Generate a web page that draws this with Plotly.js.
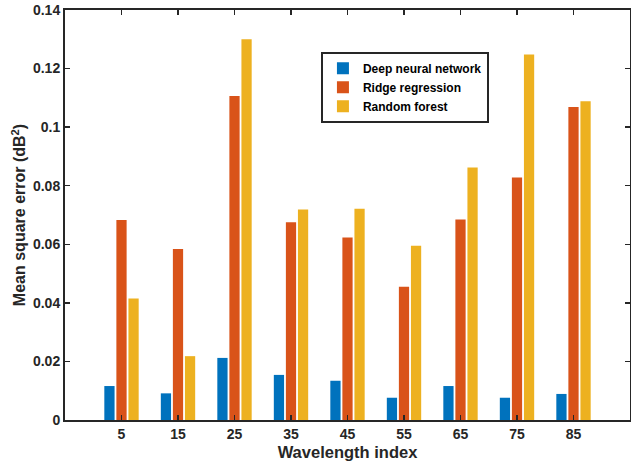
<!DOCTYPE html>
<html>
<head>
<meta charset="utf-8">
<script src="https://cdn.plot.ly/plotly-3.0.1.min.js"></script>
<style>html,body{margin:0;padding:0;background:#fff;}#chart{width:631px;height:472px;}</style>
</head>
<body>
<div id="chart"></div>
<script>
const categories = [5, 15, 25, 35, 45, 55, 65, 75, 85];
const dnn = [0.0116, 0.0091, 0.0212, 0.0154, 0.0134, 0.0076, 0.0116, 0.0076, 0.0089];
const ridge = [0.0683, 0.0584, 0.1106, 0.0675, 0.0623, 0.0455, 0.0685, 0.0828, 0.1069];
const forest = [0.0415, 0.0218, 0.1300, 0.0719, 0.0721, 0.0595, 0.0862, 0.1248, 0.1088];
const seriesNames = ['Deep neural network', 'Ridge regression', 'Random forest'];
const yTickVals = [0, 0.02, 0.04, 0.06, 0.08, 0.1, 0.12, 0.14];
const yTickText = ['0', '0.02', '0.04', '0.06', '0.08', '0.1', '0.12', '0.14'];

const colors = ['#0072BD', '#D95319', '#EDB120'];
const seriesData = [dnn, ridge, forest];
const traces = seriesData.map((vals, i) => ({
  type: 'bar', x: categories, y: vals, name: seriesNames[i],
  marker: {color: colors[i], line: {width: 0}}
}));

const axisCommon = {
  showline: true, linecolor: '#262626', linewidth: 2, mirror: 'ticks',
  ticks: 'inside', ticklen: 5, tickwidth: 1.5, tickcolor: '#262626',
  showgrid: false, zeroline: false,
  tickfont: {family: '"Liberation Sans", Arial, sans-serif', size: 14, color: '#262626', weight: 'bold'}
};

const layout = {
  width: 631, height: 472,
  margin: {l: 65, r: 1, t: 10, b: 52, pad: 0},
  paper_bgcolor: '#fff', plot_bgcolor: '#fff',
  font: {family: '"Liberation Sans", Arial, sans-serif', color: '#262626', weight: 'bold'},
  barmode: 'group', bargap: 0.36, bargroupgap: 0.15,
  showlegend: true,
  legend: {
    x: 0.453, y: 0.898, xanchor: 'left', yanchor: 'top',
    bgcolor: '#fff', bordercolor: '#262626', borderwidth: 2,
    font: {size: 12, color: '#000', weight: 'bold'},
    tracegroupgap: 0, itemwidth: 30
  },
  xaxis: Object.assign({}, axisCommon, {
    range: [-5, 95], tickvals: categories, ticktext: categories.map(String),
    title: {text: 'Wavelength index', font: {size: 16.5, color: '#262626', weight: 'bold'}, standoff: 6}
  }),
  yaxis: Object.assign({}, axisCommon, {
    range: [0, 0.14], tickvals: yTickVals, ticktext: yTickText,
    title: {text: 'Mean square error (dB<sup>2</sup>)', font: {size: 16, color: '#262626', weight: 'bold'}, standoff: 3}
  })
};

Plotly.newPlot('chart', traces, layout, {displayModeBar: false, staticPlot: true});
</script>
</body>
</html>
